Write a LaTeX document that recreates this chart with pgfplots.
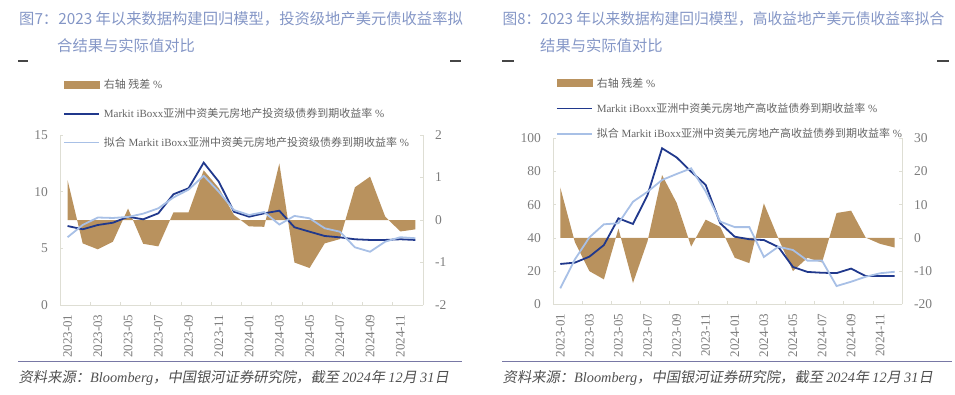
\documentclass[border=0pt]{standalone}
\usepackage{pgfplots}
\pgfplotsset{compat=1.18}
\usepackage{fontspec}
\setmainfont{Liberation Serif}
\newfontfamily\cjk{Noto Sans CJK SC}
\newfontfamily\cjkit[FakeSlant=0.18]{Noto Sans CJK SC}
\definecolor{resid}{RGB}{185,146,94}
\definecolor{dkblue}{RGB}{32,56,140}
\definecolor{ltblue}{RGB}{168,192,230}
\definecolor{titlec}{RGB}{132,150,198}
\definecolor{tickc}{RGB}{125,125,125}
\definecolor{legc}{RGB}{100,100,100}
\definecolor{srcc}{RGB}{80,80,80}
\definecolor{axc}{RGB}{222,222,212}
\definecolor{sepc}{RGB}{120,120,165}
\definecolor{dashc}{RGB}{70,70,70}

\pgfplotsset{
  base/.style={
    scale only axis, xmin=-0.5, xmax=23.5,
    axis line style={draw=axc, line width=0.8pt},
    tick align=inside, major tick length=3pt, minor tick length=3pt,
    every tick/.style={draw=axc, line width=0.8pt},
    tick label style={text=tickc, font=\fontsize{13.5}{15}\selectfont},
    /pgf/number format/assume math mode=true,
    yticklabel shift=8.5pt,
  },
  xstyle/.style={
    axis x line*=bottom,
    xtick={0,2,...,22},
    xticklabels={2023-01,2023-03,2023-05,2023-07,2023-09,2023-11,2024-01,2024-03,2024-05,2024-07,2024-09,2024-11},
    x tick label style={rotate=90, anchor=east, font=\fontsize{13}{14}\selectfont},
    xticklabel shift=6pt,
    major x tick style={draw=none},
    minor xtick={1.5,3.5,...,21.5},
  },
  legstyle/.style={
    legend style={draw=none, fill=none, font=\fontsize{11}{13}\selectfont, text=legc,
      inner sep=0pt, nodes={inner sep=1pt},
      /tikz/every odd column/.append style={column sep=3pt}},
    legend cell align=left,
    legend image code/.code={\draw[##1] (0pt,0pt) -- (35pt,0pt);},
  },
}

\begin{document}
\begin{tikzpicture}
\useasboundingbox (0,0) rectangle (955pt,394pt);

% ---------------- titles ----------------
\node[anchor=base west, inner sep=0, text=titlec, font=\cjk\fontsize{15.3}{18}\selectfont] at (19pt,369pt) {图7：2023 年以来数据构建回归模型，投资级地产美元债收益率拟};
\node[anchor=base west, inner sep=0, text=titlec, font=\cjk\fontsize{15.3}{18}\selectfont] at (57pt,342pt) {合结果与实际值对比};
\node[anchor=base west, inner sep=0, text=titlec, font=\cjk\fontsize{15.3}{18}\selectfont] at (502.5pt,369pt) {\scalebox{0.962}[1]{图8：2023 年以来数据构建回归模型，高收益地产美元债收益率拟合}};
\node[anchor=base west, inner sep=0, text=titlec, font=\cjk\fontsize{15.3}{18}\selectfont] at (540pt,342pt) {结果与实际值对比};

\draw[dashc, line width=1.2pt] (18pt,333pt) -- (28pt,333pt);
\draw[dashc, line width=1.2pt] (450pt,333pt) -- (461pt,333pt);
\draw[dashc, line width=1.2pt] (502pt,333pt) -- (514pt,333pt);
\draw[dashc, line width=1.2pt] (937pt,333pt) -- (949pt,333pt);

% ---------------- left chart ----------------
\begin{axis}[base, at={(60pt,89pt)}, anchor=south west, width=363pt, height=170pt,
  ymin=-2, ymax=2, ytick={-2,-1,0,1,2}, axis y line*=right, axis x line=none]
\addplot[fill=resid, draw=none] coordinates {
(0,0) (0,0.94) (1,-0.55) (2,-0.69) (3,-0.51) (4,0.27) (5,-0.56) (6,-0.62) (7,0.18)
(8,0.18) (9,1.17) (10,0.75) (11,0.12) (12,-0.15) (13,-0.16) (14,1.33) (15,-1.0)
(16,-1.13) (17,-0.55) (18,-0.45) (19,0.77) (20,1.02) (21,0.08) (22,-0.27) (23,-0.22) (23,0)};
\end{axis}

\begin{axis}[base, xstyle, legstyle, at={(60pt,89pt)}, anchor=south west, width=363pt, height=170pt,
  ymin=0, ymax=15, ytick={0,5,10,15}, axis y line*=left,
  legend style={at={(0.008,1.333)}, anchor=north west, row sep=16pt}]
\addlegendimage{legend image code/.code={\fill[resid] (0pt,-3.5pt) rectangle (35pt,3.5pt);}}
\addlegendentry{{\cjk 右轴 残差} \%}
\addplot[dkblue, line width=1.8pt] coordinates {
(0,6.97) (1,6.68) (2,7.06) (3,7.26) (4,7.79) (5,7.56) (6,8.09) (7,9.77) (8,10.3)
(9,12.56) (10,10.88) (11,8.23) (12,7.79) (13,8.09) (14,8.32) (15,6.86) (16,6.47)
(17,6.09) (18,5.97) (19,5.8) (20,5.74) (21,5.74) (22,5.8) (23,5.74)};
\addlegendentry{Markit iBoxx{\cjk 亚洲中资美元房地产投资级债券到期收益率} \%}
\addplot[ltblue, line width=1.8pt] coordinates {
(0,5.98) (1,7.06) (2,7.72) (3,7.68) (4,7.77) (5,8.06) (6,8.53) (7,9.49) (8,10.18)
(9,11.4) (10,10.0) (11,8.38) (12,7.94) (13,8.2) (14,7.1) (15,7.86) (16,7.65)
(17,6.77) (18,6.47) (19,5.09) (20,4.7) (21,5.59) (22,5.98) (23,5.89)};
\addlegendentry{{\cjk 拟合} Markit iBoxx{\cjk 亚洲中资美元房地产投资级债券到期收益率} \%}
\end{axis}

% ---------------- right chart ----------------
\begin{axis}[base, at={(553pt,89.7pt)}, anchor=south west, width=349pt, height=166pt,
  ymin=-20, ymax=30, ytick={-20,-10,0,10,20,30}, axis y line*=right, axis x line=none]
\addplot[fill=resid, draw=none] coordinates {
(0,0) (0,15.2) (1,-1.2) (2,-10) (3,-12.5) (4,2.8) (5,-13.6) (6,-1) (7,18.9)
(8,10.6) (9,-2.6) (10,5.5) (11,3.3) (12,-6.0) (13,-7.6) (14,10.4) (15,-0.2)
(16,-10.0) (17,-6.0) (18,-7.4) (19,7.5) (20,8.2) (21,0.1) (22,-1.8) (23,-2.9) (23,0)};
\end{axis}

\begin{axis}[base, xstyle, legstyle, at={(553pt,89.7pt)}, anchor=south west, width=349pt, height=166pt,
  ymin=0, ymax=100, ytick={0,20,40,60,80,100}, axis y line*=left,
  legend style={at={(0.008,1.372)}, anchor=north west, row sep=12.5pt}]
\addlegendimage{legend image code/.code={\fill[resid] (0pt,-3.5pt) rectangle (35pt,3.5pt);}}
\addlegendentry{{\cjk 右轴 残差} \%}
\addplot[dkblue, line width=1.8pt] coordinates {
(0,24.3) (1,25.1) (2,28.7) (3,35.7) (4,51.8) (5,48.4) (6,65.8) (7,94.0) (8,88.5)
(9,79.9) (10,71.9) (11,48.8) (12,40.7) (13,39.2) (14,38.7) (15,34.5) (16,22.5)
(17,19.5) (18,19.0) (19,18.8) (20,21.5) (21,17.0) (22,17.0) (23,17.0)};
\addlegendentry{Markit iBoxx{\cjk 亚洲中资美元房地产高收益债券到期收益率} \%}
\addplot[ltblue, line width=1.8pt] coordinates {
(0,9.6) (1,27) (2,40.3) (3,48.2) (4,48.8) (5,61.8) (6,67.8) (7,74.9) (8,78.5)
(9,81.9) (10,68) (11,49.8) (12,46.5) (13,46.5) (14,28.5) (15,34.7) (16,32.7)
(17,26.3) (18,26.3) (19,11.0) (20,13.6) (21,16.6) (22,18.7) (23,19.6)};
\addlegendentry{{\cjk 拟合} Markit iBoxx{\cjk 亚洲中资美元房地产高收益债券到期收益率} \%}
\end{axis}

% ---------------- separators and sources ----------------
\draw[sepc, line width=0.9pt] (18pt,33pt) -- (462pt,33pt);
\draw[sepc, line width=0.9pt] (502pt,33pt) -- (952pt,33pt);
\node[anchor=base west, inner sep=0, text=srcc, font=\fontsize{14.3}{16}\selectfont] at (18.5pt,12pt)
 {{\cjkit 资料来源：}{\itshape Bloomberg}{\cjkit ，中国银河证券研究院，截至 }{\itshape 2024}{\cjkit  年 }{\itshape 12}{\cjkit  月 }{\itshape 31}{\cjkit  日}};
\node[anchor=base west, inner sep=0, text=srcc, font=\fontsize{14.3}{16}\selectfont] at (502.5pt,12pt)
 {{\cjkit 资料来源：}{\itshape Bloomberg}{\cjkit ，中国银河证券研究院，截至 }{\itshape 2024}{\cjkit  年 }{\itshape 12}{\cjkit  月 }{\itshape 31}{\cjkit  日}};
\end{tikzpicture}
\end{document}
